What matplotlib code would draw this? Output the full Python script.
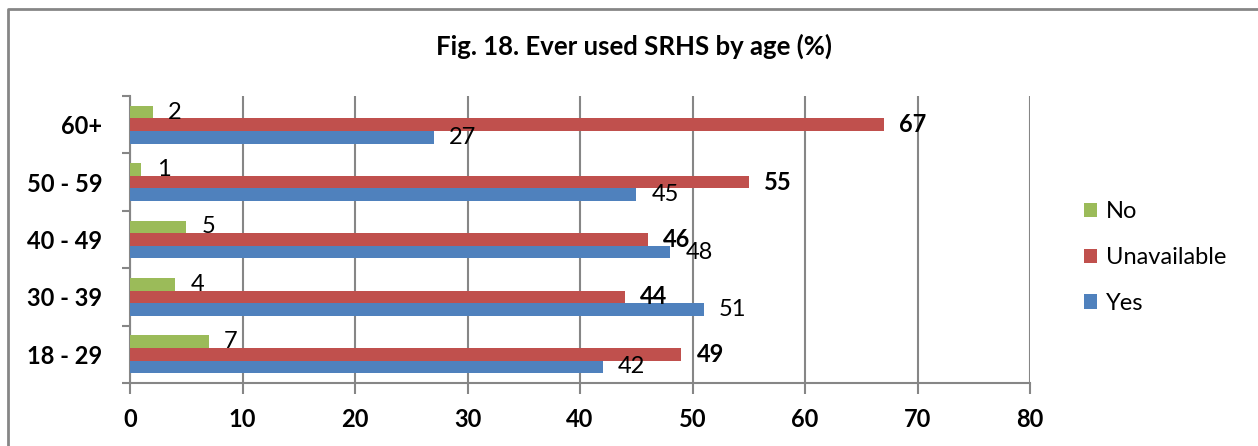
import numpy as np
import matplotlib
matplotlib.use("Agg")
import matplotlib.pyplot as plt
from matplotlib.lines import Line2D

plt.rcParams['font.family'] = ['Lato', 'DejaVu Sans']

ages = ["18 - 29", "30 - 39", "40 - 49", "50 - 59", "60+"]
yes = [42, 51, 48, 45, 27]
unavailable = [49, 44, 46, 55, 67]
no = [7, 4, 5, 1, 2]
x_ticks = [0, 10, 20, 30, 40, 50, 60, 70, 80]

c_yes = "#4f81bd"
c_unav = "#c0504d"
c_no = "#9bbb59"
grey = "#868686"

W, H = 1258, 446
fig = plt.figure(figsize=(W / 100, H / 100), dpi=100)
ax = fig.add_axes([130 / W, 1 - 383 / H, 900 / W, 287 / H])

y = np.arange(len(ages))
h = 0.22
b1 = ax.barh(y - h, yes, height=h, color=c_yes, label="Yes", zorder=3)
b2 = ax.barh(y, unavailable, height=h, color=c_unav, label="Unavailable", zorder=3)
b3 = ax.barh(y + h, no, height=h, color=c_no, label="No", zorder=3)

for bars, vals, wt in [(b1, yes, "normal"), (b2, unavailable, "bold"), (b3, no, "normal")]:
    for bar, v in zip(bars, vals):
        ax.annotate(str(v), (v, bar.get_y() + bar.get_height() / 2),
                    xytext=(11, 0), textcoords="offset points",
                    va="center", ha="left", fontsize=17, fontweight=wt, zorder=4)

ax.set_xlim(0, 80)
ax.set_ylim(-0.5, len(ages) - 0.5)
ax.set_xticks(x_ticks)
ax.set_xticklabels([str(t) for t in x_ticks], fontsize=17, fontweight="bold")
ax.set_yticks(y)
ax.set_yticklabels(ages, fontsize=17, fontweight="bold")
ax.set_yticks(np.arange(-0.5, len(ages)), minor=True)
ax.tick_params(axis="y", which="major", length=0, pad=20)
ax.tick_params(axis="y", which="minor", length=6, color=grey, width=1.5)
ax.tick_params(axis="x", length=8, color=grey, width=1.5, pad=10)
ax.grid(axis="x", color=grey, linewidth=1.5, zorder=0)

for s in ["top", "right"]:
    ax.spines[s].set_visible(False)
for s in ["left", "bottom"]:
    ax.spines[s].set_color(grey)
    ax.spines[s].set_linewidth(1.5)

handles, labels = ax.get_legend_handles_labels()
ax.legend(handles[::-1], labels[::-1], loc="center left", bbox_to_anchor=(1.05, 0.437),
          frameon=False, fontsize=17, handlelength=0.55, handleheight=0.55,
          handletextpad=0.35, labelspacing=1.05, borderaxespad=0)

fig.text(634 / W, 1 - 46 / H, "Fig. 18. Ever used SRHS by age (%)", ha="center", va="center",
         fontsize=18.5, fontweight="bold")

# outer chart border: only top and left edges fall inside the image
fig.lines.append(Line2D([7.5 / W, 7.5 / W, 1.0], [0.0, 1 - 9 / H, 1 - 9 / H],
                        transform=fig.transFigure, color=grey, linewidth=2))

fig.savefig("out.png", dpi=100)
